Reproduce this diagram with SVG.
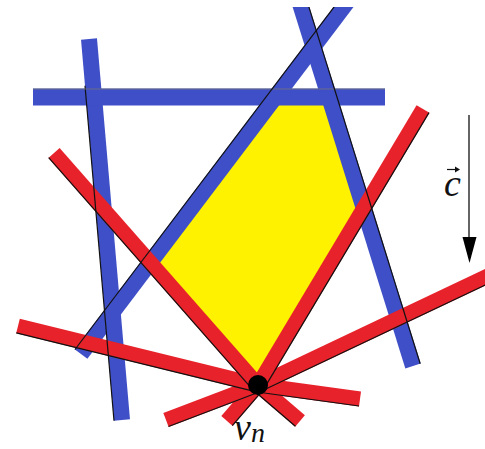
<svg xmlns="http://www.w3.org/2000/svg" width="485" height="449" viewBox="0 0 485 449">
<defs>
<style>
.blue{stroke:#3F4FC7;stroke-width:16;stroke-linecap:butt;fill:none}
.red{stroke:#E8222A;stroke-width:15;stroke-linecap:butt;fill:none}
.edge{stroke:#111;stroke-width:1.2;fill:none}
.lbl{font-family:'Liberation Serif','DejaVu Serif',serif;font-style:italic;fill:#111}
</style>
<clipPath id="clip"><rect x="0" y="7" width="485" height="442"/></clipPath>
</defs>
<rect width="485" height="449" fill="#fff"/>
<g id="region">
<polygon points="275,97 329,97 364,208 258,385 150,262" fill="#FFF200"/>
</g>
<g id="connectors" clip-path="url(#clip)">
<g id="blue-lines">
<line class="blue" x1="89" y1="39" x2="122" y2="420"/>
<line class="blue" x1="33" y1="97" x2="385" y2="97" style="stroke-width:17"/>
<line class="blue" x1="81" y1="354" x2="350.3" y2="-2"/>
<line class="blue" x1="298.2" y1="-2" x2="413" y2="366"/>
</g>
<g id="red-lines">
<line class="red" x1="18" y1="326" x2="258" y2="385"/>
<line class="red" x1="258" y1="385" x2="360" y2="399"/>
<line class="red" x1="166" y1="420" x2="258" y2="385"/>
<line class="red" x1="258" y1="385" x2="490" y2="275"/>
<line class="red" x1="54" y1="153" x2="258" y2="385"/>
<line class="red" x1="258" y1="385" x2="300" y2="421"/>
<line class="red" x1="423" y1="109" x2="258" y2="385"/>
<line class="red" x1="258" y1="385" x2="227" y2="421"/>
</g>
<g id="edges">
<line class="edge" x1="85" y1="85.7" x2="114" y2="420.7"/>
<line class="edge" x1="33" y1="89" x2="385" y2="89" style="stroke:#777;stroke-width:0.8"/>
<line class="edge" x1="75" y1="349.5" x2="344.3" y2="-6.5"/>
<line class="edge" x1="305.4" y1="-4.2" x2="420.2" y2="363.8"/>
<line class="edge" x1="48.7" y1="157.6" x2="252.7" y2="389.6"/>
<line class="edge" x1="253.4" y1="390.3" x2="295.4" y2="426.3"/>
<line class="edge" x1="429" y1="112.6" x2="264" y2="388.6"/>
<line class="edge" x1="263.3" y1="389.6" x2="232.3" y2="425.6"/>
<line class="edge" x1="16.3" y1="332.8" x2="256.3" y2="391.8"/>
<line class="edge" x1="257" y1="392" x2="359" y2="406"/>
<line class="edge" x1="168.5" y1="426.5" x2="260.5" y2="391.5"/>
<line class="edge" x1="261" y1="391.3" x2="493" y2="281.3"/>
</g>
</g>
<g id="vertex">
<circle cx="258" cy="385" r="10" fill="#000"/>
<text class="lbl" x="234" y="440" font-size="38">v<tspan font-size="28" dy="2">n</tspan></text>
</g>
<g id="cost-vector">
<line x1="469" y1="115" x2="469" y2="240" stroke="#111" stroke-width="1.3"/>
<polygon points="462.5,237 476.5,237 469.5,263" fill="#000"/>
<text class="lbl" x="444" y="196" font-size="38">c</text>
<line x1="447" y1="169.5" x2="457" y2="169.5" stroke="#111" stroke-width="1.2"/>
<polygon points="455,166.5 460,169.5 455,172.5" fill="#111"/>
</g>
</svg>
